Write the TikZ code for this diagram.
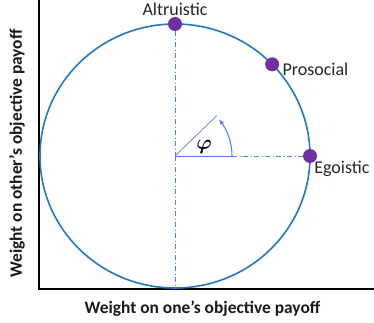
\documentclass[tikz,border=0pt]{standalone}
\usepackage{amsmath}
\usepackage{fontspec}
\setmainfont{Carlito}
\usetikzlibrary{arrows,positioning,calc}
\definecolor{ringblue}{HTML}{1F78C8}
\definecolor{guideblue}{HTML}{4F82DE}
\definecolor{dotpurple}{HTML}{7030A0}

\begin{document}
\begin{tikzpicture}[
  x=1pt,y=-1pt,
  dot/.style={circle,fill=dotpurple,inner sep=0pt,minimum size=14pt},
  lbl/.style={inner sep=0pt,font=\fontsize{18}{20}\selectfont,text=black!85},
  axlbl/.style={inner sep=0pt,font=\bfseries\fontsize{17.4}{19}\selectfont,text=black!90},
  guide/.style={guideblue,line width=0.9pt,dash pattern=on 5pt off 2.5pt on 1pt off 2.5pt}
]
  \useasboundingbox (0,0) rectangle (374,323);
  \coordinate (O) at (175,156);
  \coordinate (ytop) at (39,0);
  \coordinate (orig) at (39,289);
  \coordinate (xend) at (374,289);
  \coordinate (low) at (175,288);
  \coordinate (tick) at ($(O)+(57,0)$);
  \coordinate (ray) at ($(O)+(-44:58)$);

  % axes
  \draw[black,line width=2.2pt] (ytop) -- (orig) -- (xend);

  % weight circle
  \draw[ringblue,line width=1.6pt] (O) ellipse[x radius=135,y radius=132];

  % orientations
  \node[dot] (alt) at (175,24) {};
  \node[dot] (pro) at ($(O)+(-44:135 and 132)$) {};
  \node[dot] (ego) at (310,156) {};
  \node[lbl,above=1pt of alt] (altlbl) {Altruistic};
  \node[lbl,right=3pt of pro,yshift=-5pt] (prolbl) {Prosocial};
  \node[lbl,below right=0pt and -1pt of ego] (egolbl) {Egoistic};

  % guides
  \draw[guide] (O) -- (low);
  \draw[guide] (tick) -- (ego);
  \draw[guide] (alt) -- (O);

  % angle
  \draw[guideblue,line width=1pt] (O) -- (tick);
  \draw[guideblue,line width=0.7pt] (O) -- (ray);
  \draw[guideblue,line width=1.1pt,-{latex'}] (tick) arc[start angle=0,end angle=-40,radius=57];
  \node[font=\fontsize{21}{22}\selectfont] (phi) at (204,147) {$\boldsymbol{\varphi}$};

  \node[axlbl] (xlbl) at (202.5,309) {Weight on one’s objective payoff};
  \node[axlbl,rotate=90] (ylbl) at (17,153.5) {Weight on other’s objective payoff};
\end{tikzpicture}
\end{document}
